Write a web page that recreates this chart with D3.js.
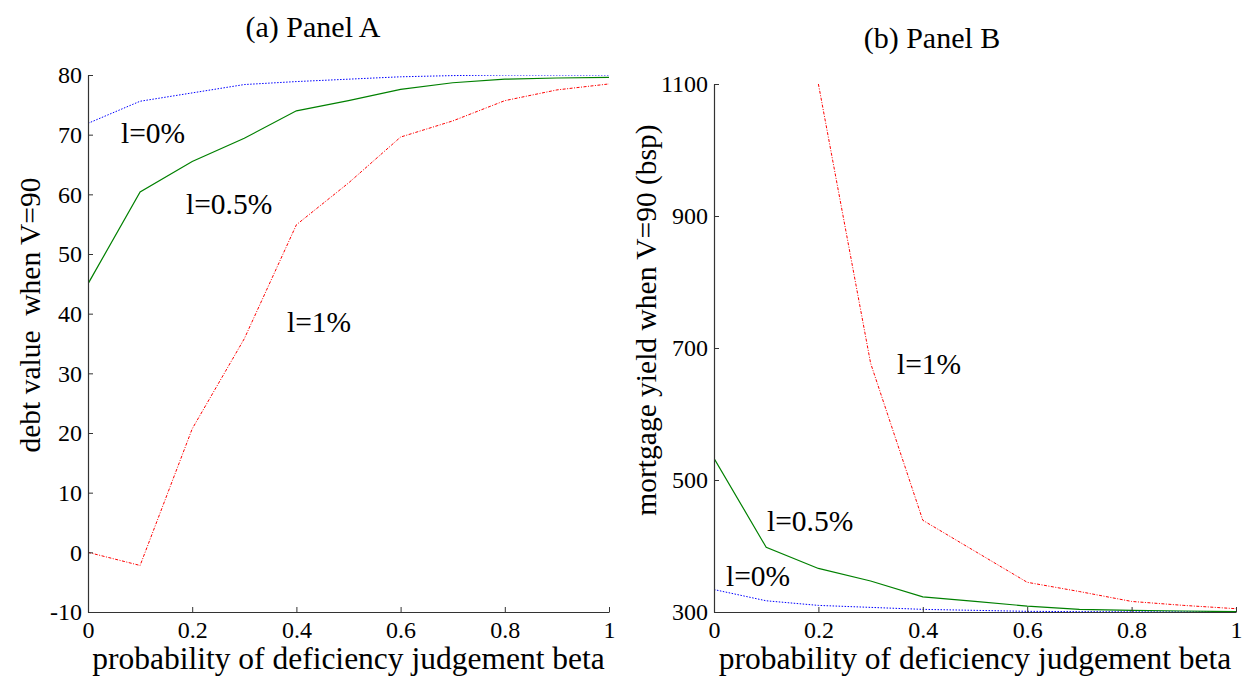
<!DOCTYPE html>
<html>
<head>
<meta charset="utf-8">
<script src="https://cdn.jsdelivr.net/npm/d3@7"></script>
<style>
  body { margin: 0; background: #fff; }
</style>
</head>
<body>
<script>
// ─── DATA ────────────────────────────────────────────────────────────
const beta = [0, 0.1, 0.2, 0.3, 0.4, 0.5, 0.6, 0.7, 0.8, 0.9, 1];

// Panel A: debt value when V=90
const debtL0  = [71.9, 75.6, 77.0, 78.4, 78.9, 79.3, 79.7, 79.9, 80.0, 80.0, 80.0];
const debtL05 = [45.0, 60.4, 65.5, 69.4, 74.0, 75.7, 77.6, 78.7, 79.3, 79.5, 79.6];
const debtL1  = [0.0, -2.2, 20.7, 35.8, 54.9, 61.9, 69.6, 72.3, 75.7, 77.5, 78.5];

// Panel B: mortgage yield when V=90 (bsp); l=1% is off the top for beta < 0.2
const yieldL0  = [334, 317, 310, 307, 304, 302.5, 301, 300.5, 300.3, 300.2, 300.1];
const yieldL05 = [533, 398, 366, 347, 323, 316, 309, 304, 302.5, 301.5, 300.5];
const yieldL1  = [null, null, 1100, 677, 439, 392, 345, 331, 316, 310, 305];

const xTicks  = [0, 0.2, 0.4, 0.6, 0.8, 1];
const yTicksA = [-10, 0, 10, 20, 30, 40, 50, 60, 70, 80];
const yTicksB = [300, 500, 700, 900, 1100];

const W = 1244, H = 681;
const FONT = "'Liberation Serif', 'Times New Roman', Times, 'DejaVu Serif', serif";

const svg = d3.select("body").append("svg")
  .attr("width", W)
  .attr("height", H)
  .style("font-family", FONT);

const styles = {
  l0:  { color: "#0000ff", dash: "1.5,1.5", width: 1 },
  l05: { color: "#008000", dash: null,      width: 1.2 },
  l1:  { color: "#ff0000", dash: "3,1.5,1,1.5", width: 1 }
};

// plain hyphen for negatives, like the original
const fmt = d => String(+d.toFixed(6));

function label(x, y, txt, size, anchor) {
  return svg.append("text")
    .attr("x", x).attr("y", y)
    .attr("text-anchor", anchor || "start")
    .style("font-family", FONT)
    .style("font-size", size + "px")
    .style("fill", "#000")
    .text(txt);
}

// ─── PANEL ───────────────────────────────────────────────────────────
function drawPanel(opt) {
  const x = d3.scaleLinear().domain([0, 1]).range([opt.x0, opt.x1]);
  const y = d3.scaleLinear().domain(opt.yDomain).range([opt.yBottom, opt.yTop]);

  const clipId = "clip-" + opt.id;
  svg.append("clipPath").attr("id", clipId)
    .append("rect")
      .attr("x", opt.x0).attr("y", opt.yTop)
      .attr("width", opt.x1 - opt.x0).attr("height", opt.yBottom - opt.yTop);

  const line = d3.line()
    .defined(d => d[1] != null)
    .x(d => x(d[0]))
    .y(d => y(d[1]));

  const g = svg.append("g").attr("clip-path", `url(#${clipId})`);
  opt.series.forEach(s => {
    const st = styles[s.key];
    g.append("path")
      .datum(beta.map((b, i) => [b, s.values[i]]))
      .attr("d", line)
      .attr("fill", "none")
      .attr("stroke", st.color)
      .attr("stroke-width", st.width)
      .attr("stroke-dasharray", st.dash);
  });

  const xAxis = svg.append("g")
    .attr("transform", `translate(0,${opt.yBottom})`)
    .call(d3.axisBottom(x).tickValues(xTicks)
      .tickFormat(fmt)
      .tickSizeInner(-5).tickSizeOuter(0).tickPadding(9));
  const yAxis = svg.append("g")
    .attr("transform", `translate(${opt.x0},0)`)
    .call(d3.axisLeft(y).tickValues(opt.yTicks)
      .tickFormat(fmt)
      .tickSizeInner(-5).tickSizeOuter(0).tickPadding(6));

  [xAxis, yAxis].forEach(a => {
    a.attr("font-family", null).attr("font-size", null);
    a.select(".domain").attr("stroke", "#333").attr("stroke-width", 1.2);
    a.selectAll(".tick line").attr("stroke", "#333");
    a.selectAll(".tick text")
      .style("font-family", FONT)
      .style("font-size", "24px")
      .style("fill", "#000");
  });
  xAxis.selectAll(".tick text").attr("dy", "0.71em");

  label(opt.titleX, opt.titleY, opt.title, 30, "middle");
  label((opt.x0 + opt.x1) / 2, 669, "probability of deficiency judgement beta", 31.5, "middle");

  svg.append("text")
    .attr("transform", `translate(${opt.yLabelX},${opt.yLabelY}) rotate(-90)`)
    .attr("text-anchor", "middle")
    .style("font-family", FONT)
    .style("font-size", "29.5px")
    .style("white-space", "pre")
    .text(opt.yLabel);

  opt.notes.forEach(n => label(n.x, n.y, n.text, 29.5));
}

drawPanel({
  id: "a",
  x0: 88, x1: 609, yTop: 75, yBottom: 612,
  yDomain: [-10, 80], yTicks: yTicksA,
  title: "(a) Panel A", titleX: 313, titleY: 37,
  yLabel: "debt value  when V=90", yLabelX: 40, yLabelY: 315,
  series: [
    { key: "l0",  values: debtL0 },
    { key: "l05", values: debtL05 },
    { key: "l1",  values: debtL1 }
  ],
  notes: [
    { text: "l=0%",   x: 121, y: 143 },
    { text: "l=0.5%", x: 186, y: 214 },
    { text: "l=1%",   x: 287, y: 332 }
  ]
});

drawPanel({
  id: "b",
  x0: 714, x1: 1236, yTop: 84, yBottom: 612,
  yDomain: [300, 1100], yTicks: yTicksB,
  title: "(b) Panel B", titleX: 932, titleY: 48,
  yLabel: "mortgage yield when V=90 (bsp)", yLabelX: 656, yLabelY: 320,
  series: [
    { key: "l0",  values: yieldL0 },
    { key: "l05", values: yieldL05 },
    { key: "l1",  values: yieldL1 }
  ],
  notes: [
    { text: "l=1%",   x: 897, y: 374 },
    { text: "l=0.5%", x: 767, y: 531 },
    { text: "l=0%",   x: 726, y: 586 }
  ]
});
</script>
</body>
</html>
